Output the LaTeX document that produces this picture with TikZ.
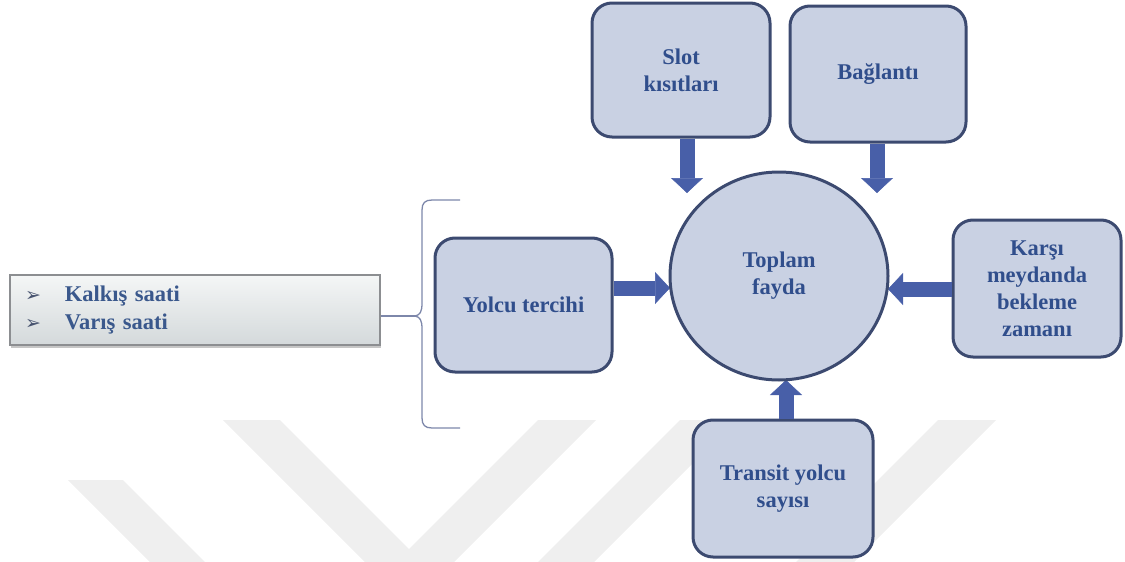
\documentclass[tikz,border=0pt]{standalone}
\usepackage{fontspec}
\setmainfont{Liberation Serif}
\newfontfamily\tnr{Liberation Serif}
\newfontfamily\symfont{DejaVu Sans}
\usetikzlibrary{shapes.geometric,arrows.meta,shadows}

\definecolor{boxfill}{RGB}{201,209,227}
\definecolor{boxdraw}{RGB}{60,74,112}
\definecolor{arrowcol}{RGB}{72,95,168}
\definecolor{txtcol}{RGB}{48,78,140}
\definecolor{listtxt}{RGB}{58,88,140}
\definecolor{bulcol}{RGB}{70,82,110}
\definecolor{bracecol}{RGB}{125,135,170}
\definecolor{wmark}{RGB}{239,239,239}
\definecolor{lbtop}{RGB}{244,246,246}
\definecolor{lbbot}{RGB}{212,217,219}
\definecolor{lbdraw}{RGB}{140,142,145}

\newcommand\labelfont{\tnr\fontsize{22.5}{27}\selectfont\bfseries}
\newcommand\listfont{\tnr\fontsize{22.5}{28}\selectfont\bfseries}
\newcommand\bul{{\symfont\fontsize{19}{19}\selectfont\color{bulcol}➢}\hspace{24pt}}

\tikzset{
  stepbox/.style={draw=boxdraw, line width=3pt, fill=boxfill, rounded corners=20pt,
    align=center, text=txtcol, font=\labelfont},
  hub/.style={ellipse, draw=boxdraw, line width=3pt, fill=boxfill,
    align=center, text=txtcol, font=\labelfont},
  listbox/.style={draw=lbdraw, line width=1.5pt, top color=lbtop, bottom color=lbbot,
    drop shadow={shadow xshift=1pt, shadow yshift=-2.5pt, opacity=0.45},
    text=listtxt, font=\listfont, align=left},
  blockarrow/.style={draw=arrowcol, line width=15pt,
    -{Triangle[width=32pt,length=15pt,line width=0.5pt]}},
  brace/.style={draw=bracecol, line width=1.3pt},
  wm/.style={fill=wmark}
}

\begin{document}
\begin{tikzpicture}[x=1pt,y=-1pt]
\useasboundingbox (0,0) rectangle (1125,562);

% faint background stripes
\fill[wm] (68,480) -- (123,480) -- (205,562) -- (150,562) -- cycle;
\fill[wm] (223,420) -- (280,420) -- (422,562) -- (365,562) -- cycle;
\fill[wm] (538,420) -- (596,420) -- (454,562) -- (396,562) -- cycle;
\fill[wm] (680,420) -- (736,420) -- (594,562) -- (538,562) -- cycle;
\fill[wm] (938,420) -- (996,420) -- (854,562) -- (796,562) -- cycle;

% list of time criteria
\node[listbox, minimum width=370pt, minimum height=70pt, text width=340pt,
      inner xsep=15pt] (list) at (195,310)
  {\bul Kalkış saati\\\bul Varış saati};

% curly brace grouping
\coordinate (btip) at (415,316);
\draw[brace] (460,200) -- (432,200) .. controls (425,200) and (422,203) .. (422,210)
  -- (422,303) .. controls (422,312) and (420,315) .. (btip)
  .. controls (420,317) and (422,320) .. (422,329)
  -- (422,418) .. controls (422,425) and (425,428) .. (432,428) -- (460,428);
\draw[brace] (list.east |- btip) -- (btip);

% factor boxes and the central node
\node[stepbox, minimum width=178pt, minimum height=134pt] (slot) at (681,70) {Slot\\kısıtları};
\node[stepbox, minimum width=176pt, minimum height=136pt] (bag) at (878,74) {Bağlantı};
\node[stepbox, minimum width=177pt, minimum height=134pt] (yolcu) at (523.5,305) {Yolcu tercihi};
\node[stepbox, minimum width=168pt, minimum height=137pt] (karsi) at (1037,288.5)
  {Karşı\\meydanda\\bekleme\\zamanı};
\node[stepbox, minimum width=180pt, minimum height=137pt] (transit) at (783,488.5)
  {Transit yolcu\\sayısı};

% arrow tips around the central node
\coordinate (tipS) at (687,193);
\coordinate (tipG) at (877,193);
\coordinate (tipL) at (670,288);
\coordinate (tipR) at (888,289);
\coordinate (tipB) at (786,380);

\draw[blockarrow] (slot.south -| tipS) -- (tipS);
\draw[blockarrow] (bag.south -| tipG) -- (tipG);
\draw[blockarrow] (yolcu.east |- tipL) -- (tipL);
\draw[blockarrow] (karsi.west |- tipR) -- (tipR);
\draw[blockarrow] (transit.north -| tipB) -- (tipB);

\node[hub, minimum width=218pt, minimum height=208pt] (hub) at (779,276) {Toplam\\fayda};
\end{tikzpicture}
\end{document}
